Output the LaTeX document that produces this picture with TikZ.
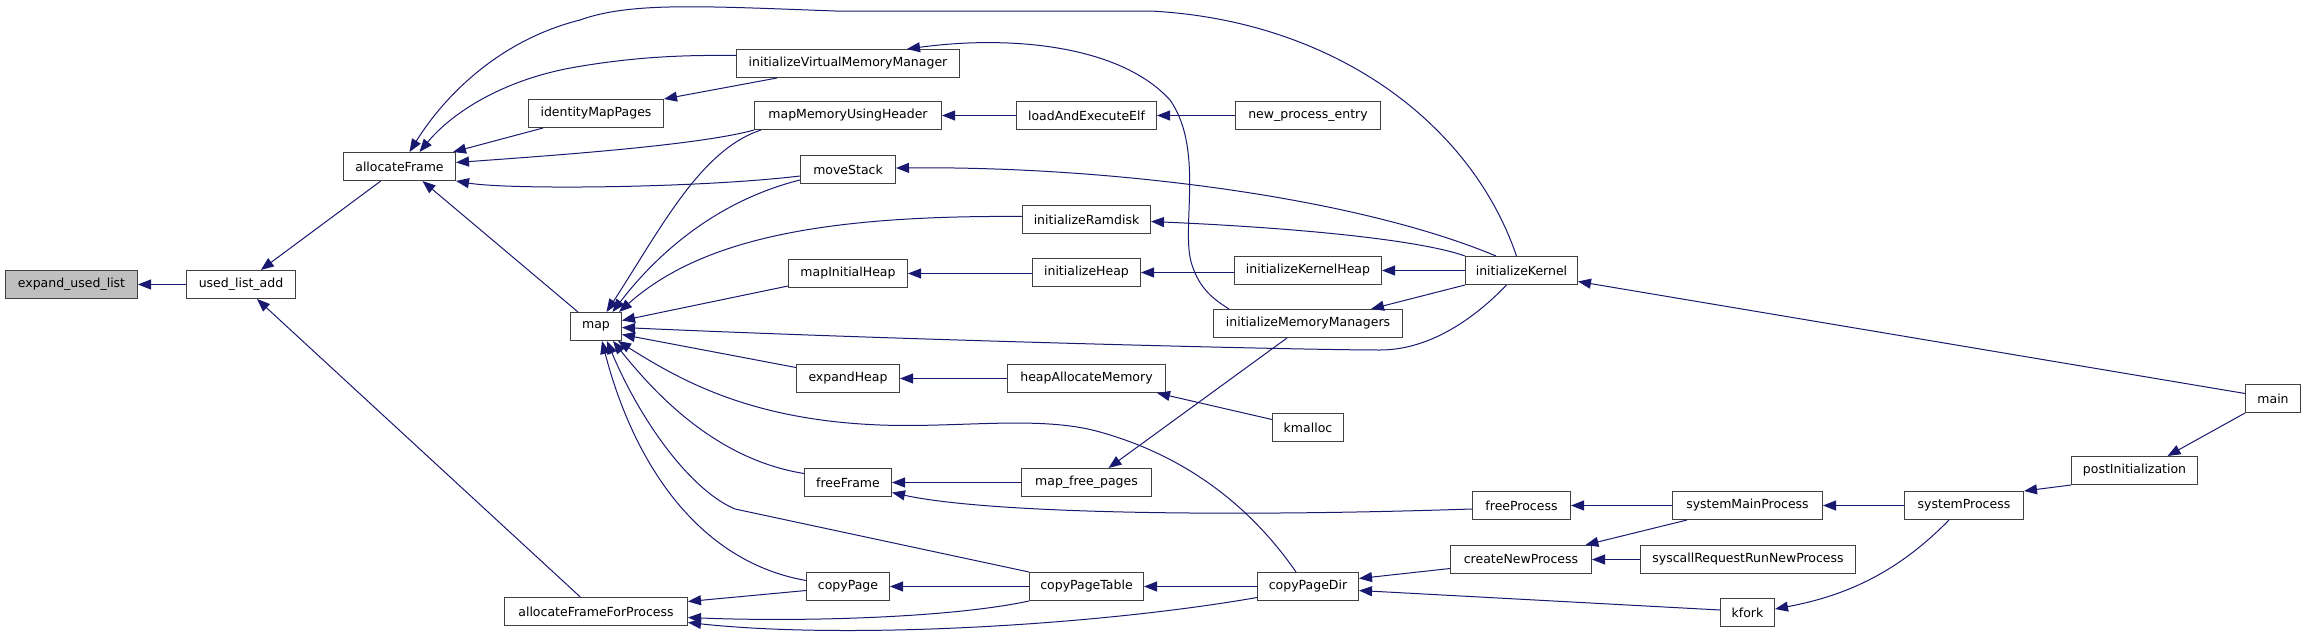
\documentclass[tikz,border=0pt]{standalone}
\usepackage{fontspec}
\setmainfont{DejaVu Sans}
\usetikzlibrary{arrows.meta,calc}
\definecolor{edgeblue}{HTML}{191970}
\definecolor{boxline}{HTML}{404040}
\definecolor{boxgray}{HTML}{BFBFBF}
\begin{document}
\begin{tikzpicture}[x=1pt,y=-1pt,
  fn/.style={draw=boxline,line width=1pt,fill=white,rectangle,inner sep=0pt,minimum height=28pt,font=\fontsize{12.5}{15}\selectfont},
  call/.style={draw=edgeblue,line width=1pt,{Triangle[length=13pt,width=10pt]}-}]
\fill[white] (0,0) rectangle (2307,637);
\useasboundingbox (0,0) rectangle (2307,637);
% nodes
\node[fn,fill=boxgray,minimum width=132pt] (eul) at (71.5,284.5) {expand\_used\_list};
\node[fn,minimum width=109pt] (ula) at (241,284.5) {used\_list\_add};
\node[fn,minimum width=112pt] (af) at (399.5,166.5) {allocateFrame};
\node[fn,minimum width=135pt] (imp) at (596,113.5) {identityMapPages};
\node[fn,minimum width=51pt] (map) at (596,326.5) {map};
\node[fn,minimum width=183pt] (affp) at (596,611.5) {allocateFrameForProcess};
\node[fn,minimum width=223pt] (ivmm) at (848,63.5) {initializeVirtualMemoryManager};
\node[fn,minimum width=187pt] (mmuh) at (848,115.5) {mapMemoryUsingHeader};
\node[fn,minimum width=95pt] (ms) at (848,169.5) {moveStack};
\node[fn,minimum width=119pt] (mih) at (848,273.5) {mapInitialHeap};
\node[fn,minimum width=103pt] (eh) at (848,378.5) {expandHeap};
\node[fn,minimum width=87pt] (ff) at (848,482.5) {freeFrame};
\node[fn,minimum width=83pt] (cp) at (848,586.5) {copyPage};
\node[fn,minimum width=140pt] (lae) at (1086.5,115.5) {loadAndExecuteElf};
\node[fn,minimum width=128pt] (ir) at (1086.5,219.5) {initializeRamdisk};
\node[fn,minimum width=108pt] (ih) at (1086.5,272.5) {initializeHeap};
\node[fn,minimum width=158pt] (ham) at (1086.5,378.5) {heapAllocateMemory};
\node[fn,minimum width=130pt] (mfp) at (1086.5,482.5) {map\_free\_pages};
\node[fn,minimum width=114pt] (cpt) at (1086.5,586.5) {copyPageTable};
\node[fn,minimum width=145pt] (npe) at (1308,115.5) {new\_process\_entry};
\node[fn,minimum width=147pt] (ikh) at (1308,270.5) {initializeKernelHeap};
\node[fn,minimum width=189pt] (imm) at (1308,323.5) {initializeMemoryManagers};
\node[fn,minimum width=71pt] (km) at (1308,427.5) {kmalloc};
\node[fn,minimum width=101pt] (cpd) at (1308,586.5) {copyPageDir};
\node[fn,minimum width=112pt] (ik) at (1521.5,270.5) {initializeKernel};
\node[fn,minimum width=98pt] (fp) at (1521.5,505.5) {freeProcess};
\node[fn,minimum width=141pt] (cnp) at (1521,559.5) {createNewProcess};
\node[fn,minimum width=150pt] (smp) at (1747.5,505.5) {systemMainProcess};
\node[fn,minimum width=215pt] (srrnp) at (1748,559.5) {syscallRequestRunNewProcess};
\node[fn,minimum width=54pt] (kfork) at (1747.5,612.5) {kfork};
\node[fn,minimum width=119pt] (sp) at (1964,505.5) {systemProcess};
\node[fn,minimum width=126pt] (pi) at (2134.5,470.5) {postInitialization};
\node[fn,minimum width=55pt] (main) at (2273,398.5) {main};
% edges
\draw[call] (eul.east) -- (ula.west);
\draw[call] ([xshift=19.8pt]ula.north) -- ([xshift=-18.7pt]af.south);
\draw[call] ([xshift=16pt]ula.south) -- ([xshift=-15.7pt]affp.north);
\draw[call] ([xshift=10pt]af.north) .. controls (445,95) and (500,40) .. (580,20) .. controls (630,2) and (700,6) .. (835,11) -- (1150,11) .. controls (1330,20) and (1470,120) .. ([xshift=-5pt]ik.north);
\draw[call] ([xshift=20pt]af.north) .. controls (450,115) and (500,80) .. (576,67) .. controls (640,56) and (690,55) .. ([yshift=8pt]ivmm.west);
\draw[call] ([xshift=-3pt]af.north east) -- ([xshift=15pt]imp.south west);
\draw[call] ([yshift=4pt]af.east) .. controls (560,155) and (700,145) .. (mmuh.south west);
\draw[call] (af.south east) .. controls (510,190) and (700,188) .. ([yshift=-6.5pt]ms.west);
\draw[call] ([xshift=23pt]af.south) -- ([xshift=8pt]map.north west);
\draw[call] (imp.north east) -- ([xshift=41pt]ivmm.south west);
\draw[call] ([xshift=59pt]ivmm.north) .. controls (1010,35) and (1120,45) .. (1170,100) .. controls (1205,150) and (1180,230) .. (1192,265) .. controls (1200,290) and (1215,300) .. ([xshift=16pt]imm.north west);
\draw[call] (mmuh.east) -- (lae.west);
\draw[call] (lae.east) -- (npe.west);
\draw[call] ([yshift=1.5pt]ms.east) .. controls (1100,166) and (1350,195) .. ([xshift=31pt]ik.north west);
\draw[call] ([yshift=-2pt]ir.east) .. controls (1300,228) and (1420,240) .. (ik.north west);
\draw[call] ([xshift=10.5pt]map.north) .. controls (660,230) and (700,150) .. ([xshift=7pt]mmuh.south west);
\draw[call] ([xshift=16.5pt]map.north) .. controls (660,250) and (720,200) .. ([yshift=-10.5pt]ms.west);
\draw[call] ([xshift=-3pt]map.north east) .. controls (700,240) and (820,215) .. ([yshift=3pt]ir.west);
\draw[call] ([yshift=6pt]map.east) -- ([yshift=-12.5pt]mih.west);
\draw[call] ([yshift=-1pt]map.east) .. controls (900,340) and (1300,350) .. (1380,350) .. controls (1430,350) and (1475,318) .. ([xshift=-15pt]ik.south);
\draw[call] ([yshift=-8pt]map.east) -- ([yshift=11pt]eh.west);
\draw[call] ([xshift=22pt]map.south) .. controls (680,380) and (750,420) .. (880,425) .. controls (960,428) and (1040,415) .. (1100,432) .. controls (1200,460) and (1260,520) .. ([xshift=-12pt]cpd.north);
\draw[call] ([xshift=17pt]map.south) .. controls (660,400) and (720,460) .. ([yshift=9pt]ff.west);
\draw[call] ([xshift=11pt]map.south) .. controls (640,420) and (690,490) .. (735,509) -- (cpt.north west);
\draw[call] ([xshift=6pt]map.south) .. controls (630,450) and (690,560) .. ([yshift=6pt]cp.west);
\draw[call] (mih.east) -- (mih.east -| ih.west);
\draw[call] (ih.east) -- (ih.east -| ikh.west);
\draw[call] (ikh.east) -- (ikh.east -| ik.west);
\draw[call] ([xshift=-32pt]imm.north east) -- (ik.south west);
\draw[call] ([yshift=-11pt]ik.east) -- ([yshift=5pt]main.west);
\draw[call] ([xshift=22pt]mfp.north) -- ([xshift=-21pt]imm.south);
\draw[call] (eh.east) -- (ham.west);
\draw[call] ([xshift=-9pt]ham.south east) -- ([yshift=8pt]km.west);
\draw[call] (ff.east) -- (mfp.west);
\draw[call] ([yshift=-10pt]ff.east) .. controls (980,512) and (1200,518) .. ([yshift=-3.5pt]fp.west);
\draw[call] (fp.east) -- (smp.west);
\draw[call] ([xshift=-6.6pt]cnp.north east) -- ([xshift=15pt]smp.south west);
\draw[call] (cnp.east) -- (srrnp.west);
\draw[call] ([yshift=8pt]cpd.east) -- ([yshift=-9pt]cnp.west);
\draw[call] ([yshift=-4pt]cpd.east) -- ([yshift=2.5pt]kfork.west);
\draw[call] (cpt.east) -- (cpd.west);
\draw[call] (cp.east) -- (cpt.west);
\draw[call] ([yshift=10pt]affp.east) -- ([yshift=-4pt]cp.west);
\draw[call] ([yshift=-6pt]affp.east) .. controls (800,622) and (950,618) .. (cpt.south west);
\draw[call] ([yshift=-11pt]affp.east) .. controls (850,640) and (1100,625) .. ([yshift=-11pt]cpd.west);
\draw[call] (smp.east) -- (sp.west);
\draw[call] (sp.north east) -- (pi.south west);
\draw[call] ([xshift=33pt]pi.north) -- (main.south west);
\draw[call] ([yshift=3.5pt]kfork.east) .. controls (1850,595) and (1900,570) .. ([xshift=-15pt]sp.south);
\end{tikzpicture}
\end{document}
